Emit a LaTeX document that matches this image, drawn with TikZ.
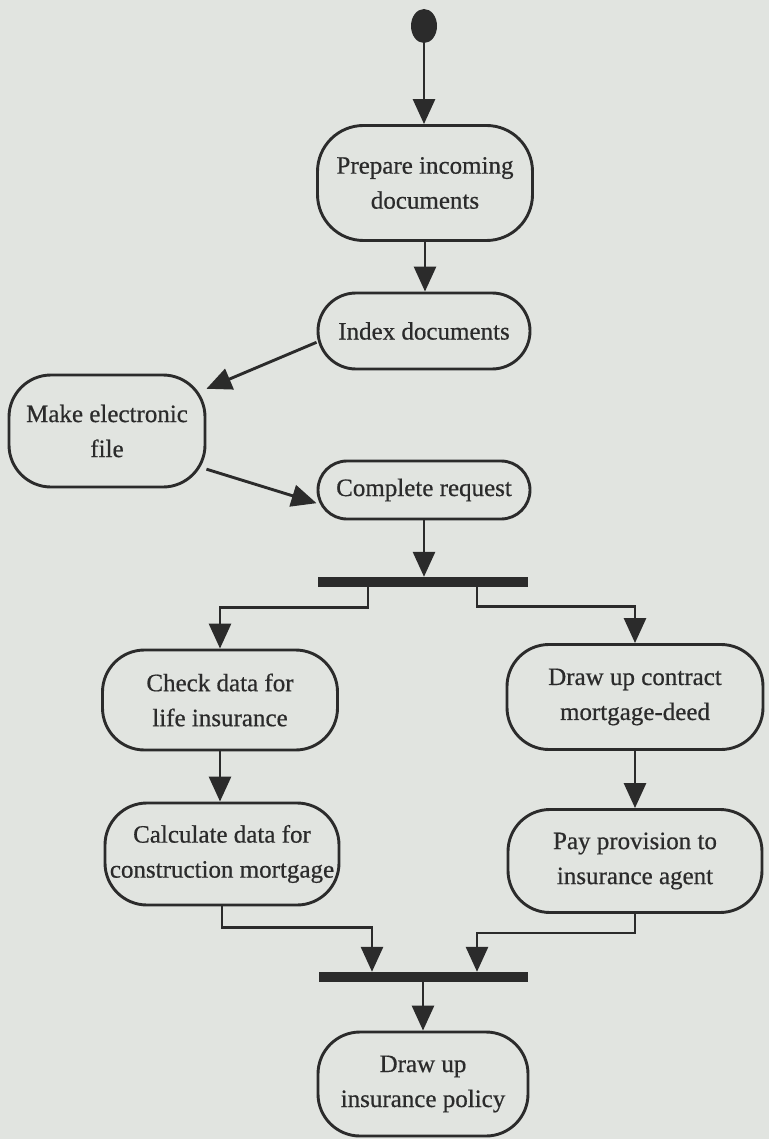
\documentclass[tikz,border=0pt]{standalone}
\usepackage{fontspec}
\setmainfont{Liberation Serif}
\usetikzlibrary{arrows.meta,shapes.geometric}

\definecolor{paper}{HTML}{E1E4E0}
\definecolor{ink}{HTML}{2B2B2B}

\tikzset{
  activity/.style={draw=ink, line width=2.9pt, rounded corners=42pt,
    align=center, inner sep=0pt, text=ink,
    font=\fontsize{25}{35}\selectfont\addfontfeature{FakeBold=0.6}},
  syncbar/.style={fill=ink, draw=none, inner sep=0pt,
    minimum height=10pt},
  initial/.style={ellipse, fill=ink, draw=none, inner sep=0pt,
    minimum width=26pt, minimum height=34pt},
  flow/.style={draw=ink, line width=2.9pt,
    -{Triangle[width=22pt,length=25pt]}},
}

\begin{document}
\begin{tikzpicture}[x=1pt,y=-1pt]
  % page
  \fill[paper] (0,0) rectangle (769,1139);
  \useasboundingbox (0,0) rectangle (769,1139);

  % activity states
  \node[initial] (start) at (424,26) {};
  \node[activity, minimum width=215pt, minimum height=115pt, rounded corners=46pt]
    (prep) at (425,183) {Prepare incoming\\documents};
  \node[activity, minimum width=212pt, minimum height=76pt, rounded corners=38pt]
    (index) at (424,331) {Index documents};
  \node[activity, minimum width=196pt, minimum height=112pt]
    (make) at (107,431) {Make electronic\\file};
  \node[activity, minimum width=212pt, minimum height=58pt, rounded corners=29pt]
    (complete) at (424,490) {Complete request};
  \node[syncbar, minimum width=210pt] (fork) at (423,582) {};
  \node[activity, minimum width=235pt, minimum height=100pt]
    (check) at (220,700) {Check data for\\life insurance};
  \node[activity, minimum width=256pt, minimum height=105pt]
    (contract) at (635,697) {Draw up contract\\mortgage-deed};
  \node[activity, minimum width=234pt, minimum height=102pt]
    (calc) at (222,854) {Calculate data for\\construction mortgage};
  \node[activity, minimum width=254pt, minimum height=103pt]
    (pay) at (635,861) {Pay provision to\\insurance agent};
  \node[syncbar, minimum width=209pt] (join) at (423,977) {};
  \node[activity, minimum width=210pt, minimum height=104pt]
    (policy) at (423,1084) {Draw up\\insurance policy};

  % transitions
  \draw[flow] (start.south) -- (start.south |- prep.north);
  \draw[flow] (prep.south) -- (prep.south |- index.north);
  \draw[flow] (index.186) -- (make.23);
  \draw[flow] (make.339) -- (complete.187);
  \draw[flow] (complete.south) -- (complete.south |- fork.north);
  \draw[flow] ([xshift=-55pt]fork.south) -- ++(0,20) -| (check.north);
  \draw[flow] ([xshift=54pt]fork.south) -- ++(0,19) -| (contract.north);
  \draw[flow] (check.south) -- (check.south |- calc.north);
  \draw[flow] (contract.south) -- (contract.south |- pay.north);
  \draw[flow] (calc.south) -- ++(0,21) -| ([xshift=-51pt]join.north);
  \draw[flow] (pay.south) -- ++(0,19) -| ([xshift=54pt]join.north);
  \draw[flow] (join.south) -- (join.south |- policy.north);
\end{tikzpicture}
\end{document}
